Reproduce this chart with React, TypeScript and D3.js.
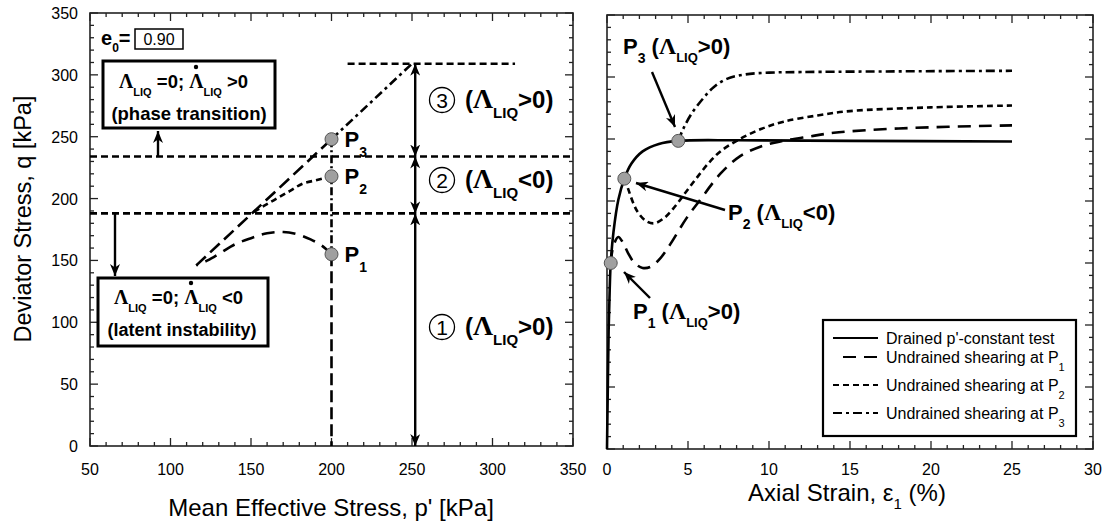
import * as d3 from 'd3';

const FONT = "'Liberation Sans', Arial, Helvetica, sans-serif";
const SERIF = "'Liberation Serif', 'Times New Roman', serif";

// ---- axes
const pTicks = [50, 100, 150, 200, 250, 300, 350];
const qTicks = [0, 50, 100, 150, 200, 250, 300, 350];
const strainTicks = [0, 5, 10, 15, 20, 25, 30];

// ---- left panel: stress paths (p', q)
const markersLeft = [
  { n: '1', p: 200, q: 155 },
  { n: '2', p: 200, q: 218 },
  { n: '3', p: 200, q: 248 },
];
const pathP1Left: [number, number][] = [
  [200, 155], [194, 162], [187, 167], [179, 171], [170, 173], [160, 172],
  [150, 168], [140, 163], [131, 156], [123, 150], [116, 146],
];
const pathP2Left: [number, number][] = [
  [200, 218], [191, 215], [182, 212], [174, 206], [166, 200], [158, 194], [150, 188],
];
const pathP3Left: [number, number][] = [[116, 146], [200, 248]];
const pathP3Ext: [number, number][] = [[200, 248], [250, 309]];
const latentQ = 188;
const phaseQ = 234;
const topQ = 309;
const topLineP = [210, 314];
const arrowP = 252;

// ---- right panel: q vs axial strain
const drained: [number, number][] = [
  [0, 0], [0.05, 50], [0.1, 95], [0.17, 130], [0.23, 150], [0.4, 175], [0.7, 201],
  [1.07, 218], [1.5, 230], [2.2, 240], [3.2, 246], [4.4, 248.5], [8, 249], [15, 248.5], [25, 248],
];
const undrainedP1: [number, number][] = [
  [0.23, 150], [0.4, 164], [0.7, 171], [1.0, 166], [1.3, 158], [1.7, 150], [2.2, 146],
  [2.7, 147], [3.3, 154], [3.9, 165], [4.9, 186], [5.7, 200], [7, 222], [8.2, 236],
  [9.5, 244], [10.7, 248], [12.5, 252], [14, 255], [18, 258.5], [25, 261],
];
const undrainedP2: [number, number][] = [
  [1.07, 218], [1.3, 210], [1.6, 199], [1.9, 191], [2.4, 184], [2.9, 182], [3.5, 186],
  [4.1, 194], [4.8, 206], [5.5, 218], [6.3, 231], [7, 240], [8.2, 250], [9.5, 258],
  [10.9, 264], [13, 269], [15, 272.5], [20, 275.5], [25, 277],
];
const undrainedP3: [number, number][] = [
  [4.4, 248.5], [4.7, 258], [5.2, 270], [5.95, 283], [6.6, 292], [7.4, 298.5],
  [8.5, 302], [10, 303.5], [12, 304], [25, 305],
];
const markersRight = [
  { n: '1', e: 0.23, q: 150 },
  { n: '2', e: 1.07, q: 218 },
  { n: '3', e: 4.4, q: 248.5 },
];

const legendItems = [
  { label: "Drained p'-constant test", sub: '', dash: '' },
  { label: 'Undrained shearing at P', sub: '1', dash: '13,8' },
  { label: 'Undrained shearing at P', sub: '2', dash: '6,4' },
  { label: 'Undrained shearing at P', sub: '3', dash: '9,4,3,4' },
];

const xL = d3.scaleLinear().domain([50, 350]).range([90, 573]);
const yL = d3.scaleLinear().domain([0, 350]).range([446, 13]);
const xR = d3.scaleLinear().domain([0, 30]).range([607, 1093]);
const yR = d3.scaleLinear().domain([0, 350]).range([449, 15]);

const lineL = d3.line<[number, number]>().x(d => xL(d[0])).y(d => yL(d[1])).curve(d3.curveCatmullRom);
const lineR = d3.line<[number, number]>().x(d => xR(d[0])).y(d => yR(d[1])).curve(d3.curveCatmullRom);

function Frame({ x, y, minorX, minorY, majorX, majorY }: any) {
  const [x0, x1] = x.range();
  const [y0, y1] = y.range();
  const els: any[] = [];
  minorX.forEach((v: number, i: number) => {
    const len = majorX.includes(v) ? 8 : 4;
    els.push(<line key={'bx' + i} x1={x(v)} x2={x(v)} y1={y0} y2={y0 - len} />);
    els.push(<line key={'tx' + i} x1={x(v)} x2={x(v)} y1={y1} y2={y1 + len} />);
  });
  minorY.forEach((v: number, i: number) => {
    const len = majorY.includes(v) ? 8 : 4;
    els.push(<line key={'ly' + i} x1={x0} x2={x0 + len} y1={y(v)} y2={y(v)} />);
    els.push(<line key={'ry' + i} x1={x1} x2={x1 - len} y1={y(v)} y2={y(v)} />);
  });
  return (
    <g stroke="#222" strokeWidth={1.3}>
      {els}
      <rect x={x0} y={y1} width={x1 - x0} height={y0 - y1} fill="none" strokeWidth={1.6} />
    </g>
  );
}

function PLabel({ x, y, n, sign }: any) {
  const s = 22;
  return (
    <text x={x} y={y} fontFamily={FONT} fontWeight="bold" fontSize={s}>
      P<tspan fontSize={14} dy={9}>{n}</tspan><tspan dy={-9}>{' ('}</tspan><tspan fontFamily={SERIF} fontSize={24}>Λ</tspan><tspan fontSize={13} dy={8}>LIQ</tspan><tspan dy={-8}>{sign + '0)'}</tspan>
    </text>
  );
}

function Region({ y, digit, sign }: any) {
  const s = 24;
  return (
    <g>
      <circle cx={442} cy={y} r={12.5} fill="none" stroke="#000" strokeWidth={1.3} />
      <text x={442} y={y + 7.5} textAnchor="middle" fontFamily={FONT} fontSize={21}>{digit}</text>
      <text x={465} y={y + 8} fontFamily={FONT} fontWeight="bold" fontSize={s}>
        (<tspan fontFamily={SERIF} fontSize={28}>Λ</tspan><tspan fontSize={15} dy={10}>LIQ</tspan><tspan dy={-10}>{sign + '0)'}</tspan>
      </text>
    </g>
  );
}

function BoxText({ x, y, sign }: any) {
  const s = 18.5;
  return (
    <g>
      <text x={x} y={y} fontFamily={FONT} fontWeight="bold" fontSize={s}>
        <tspan fontFamily={SERIF} fontSize={20}>Λ</tspan><tspan fontSize={11} dy={8}>LIQ</tspan><tspan dy={-8}>{' =0; '}</tspan><tspan fontFamily={SERIF} fontSize={20}>Λ</tspan><tspan fontSize={11} dy={8}>LIQ</tspan><tspan dy={-8}>{' ' + sign + '0'}</tspan>
      </text>
      <circle cx={x + 77} cy={y - 21} r={2.2} fill="#000" />
    </g>
  );
}

export default function App() {
  const minorP = d3.range(50, 351, 10);
  const minorQ = d3.range(0, 351, 10);
  const minorE = d3.range(0, 31, 1);
  const sw = 2.6;
  return (
    <svg width={1107} height={524} style={{ position: 'absolute', left: 0, top: 0, background: '#fff' }}>
      <defs>
        <marker id="arr" viewBox="0 0 12 10" refX={12} refY={5} markerWidth={12} markerHeight={10}
          markerUnits="userSpaceOnUse" orient="auto-start-reverse">
          <path d="M0,0 L12,5 L0,10 L3.5,5 Z" fill="#000" />
        </marker>
      </defs>

      {/* ---------- LEFT PANEL ---------- */}
      <Frame x={xL} y={yL} minorX={minorP} minorY={minorQ} majorX={pTicks} majorY={qTicks} />
      <g fontFamily={FONT} fontSize={16} fill="#000">
        {pTicks.map(t => <text key={t} x={xL(t)} y={475} textAnchor="middle">{t}</text>)}
        {qTicks.map(t => <text key={t} x={78} y={yL(t) + 6} textAnchor="end">{t}</text>)}
      </g>
      <text x={331} y={516} textAnchor="middle" fontFamily={FONT} fontSize={24}>Mean Effective Stress, p' [kPa]</text>
      <text transform={`translate(31,219) rotate(-90)`} textAnchor="middle" fontFamily={FONT} fontSize={23.5}>Deviator Stress, q [kPa]</text>

      {/* boundaries */}
      <g stroke="#000" strokeWidth={sw} strokeDasharray="7,4" fill="none">
        <line x1={xL(50)} x2={xL(350)} y1={yL(phaseQ)} y2={yL(phaseQ)} />
        <line x1={xL(50)} x2={xL(350)} y1={yL(latentQ)} y2={yL(latentQ)} />
        <line x1={xL(topLineP[0])} x2={xL(topLineP[1])} y1={yL(topQ)} y2={yL(topQ)} />
      </g>
      {/* vertical line at p' = 200 */}
      <line x1={xL(200)} x2={xL(200)} y1={yL(248)} y2={yL(155)} stroke="#000" strokeWidth={sw} strokeDasharray="8,3,2,3" />
      <line x1={xL(200)} x2={xL(200)} y1={yL(155)} y2={yL(0)} stroke="#000" strokeWidth={sw} strokeDasharray="12,5" />

      {/* stress paths */}
      <g fill="none" stroke="#000" strokeWidth={sw}>
        <path d={lineL(pathP1Left) || ''} strokeDasharray="13,8" />
        <path d={lineL(pathP2Left) || ''} strokeDasharray="6,4" />
        <path d={lineL(pathP3Left) || ''} strokeDasharray="13,6" />
        <path d={lineL(pathP3Ext) || ''} strokeDasharray="9,4,3,4" />
      </g>

      {/* double arrows */}
      <g stroke="#000" strokeWidth={2.4} markerStart="url(#arr)" markerEnd="url(#arr)">
        <line x1={xL(arrowP)} x2={xL(arrowP)} y1={yL(topQ)} y2={yL(phaseQ)} />
        <line x1={xL(arrowP)} x2={xL(arrowP)} y1={yL(phaseQ)} y2={yL(latentQ)} />
        <line x1={xL(arrowP)} x2={xL(arrowP)} y1={yL(latentQ)} y2={yL(0)} />
      </g>

      <Region y={100} digit="3" sign=">" />
      <Region y={180} digit="2" sign="<" />
      <Region y={327} digit="1" sign=">" />

      {markersLeft.map(m => (
        <g key={m.n}>
          <circle cx={xL(m.p)} cy={yL(m.q)} r={6.5} fill="#a0a0a0" stroke="#555" strokeWidth={1} />
          <text x={xL(m.p) + 13} y={yL(m.q) + 8} fontFamily={FONT} fontWeight="bold" fontSize={22}>
            P<tspan fontSize={14} dy={10}>{m.n}</tspan>
          </text>
        </g>
      ))}

      {/* e0 */}
      <text x={101} y={45} fontFamily={FONT} fontWeight="bold" fontSize={20}>
        e<tspan fontSize={12} dy={7}>0</tspan><tspan dy={-7}>=</tspan>
      </text>
      <rect x={135} y={29} width={48} height={20} fill="none" stroke="#000" strokeWidth={1.5} />
      <text x={159} y={45} textAnchor="middle" fontFamily={FONT} fontSize={16}>0.90</text>

      {/* annotation boxes */}
      <rect x={103} y={61} width={172} height={67} fill="#fff" stroke="#000" strokeWidth={3} />
      <BoxText x={119} y={88} sign=">" />
      <text x={189} y={120} textAnchor="middle" fontFamily={FONT} fontWeight="bold" fontSize={18.5}>(phase transition)</text>
      <line x1={158} x2={158} y1={yL(phaseQ)} y2={131} stroke="#000" strokeWidth={2.4} markerEnd="url(#arr)" />

      <rect x={98} y={278} width={170} height={68} fill="#fff" stroke="#000" strokeWidth={3} />
      <BoxText x={114} y={304} sign="<" />
      <text x={182} y={336} textAnchor="middle" fontFamily={FONT} fontWeight="bold" fontSize={18}>(latent instability)</text>
      <line x1={115} x2={115} y1={yL(latentQ)} y2={276} stroke="#000" strokeWidth={2.4} markerEnd="url(#arr)" />

      {/* ---------- RIGHT PANEL ---------- */}
      <Frame x={xR} y={yR} minorX={minorE} minorY={minorQ} majorX={strainTicks} majorY={qTicks} />
      <g fontFamily={FONT} fontSize={16} fill="#000">
        {strainTicks.map(t => <text key={t} x={xR(t)} y={475} textAnchor="middle">{t}</text>)}
      </g>
      <text x={847} y={501} textAnchor="middle" fontFamily={FONT} fontSize={24}>
        Axial Strain, ε<tspan fontSize={15} dy={8}>1</tspan><tspan dy={-8}>{' (%)'}</tspan>
      </text>

      <g fill="none" stroke="#000" strokeWidth={sw}>
        <path d={lineR(drained) || ''} />
        <path d={lineR(undrainedP1) || ''} strokeDasharray="13,8" />
        <path d={lineR(undrainedP2) || ''} strokeDasharray="6,4" />
        <path d={lineR(undrainedP3) || ''} strokeDasharray="9,4,3,4" />
      </g>
      {markersRight.map(m => (
        <circle key={m.n} cx={xR(m.e)} cy={yR(m.q)} r={6.5} fill="#a0a0a0" stroke="#555" strokeWidth={1} />
      ))}

      <g stroke="#000" strokeWidth={2.4} markerEnd="url(#arr)">
        <line x1={652} y1={72} x2={675} y2={127} />
        <line x1={725} y1={210} x2={636} y2={183} />
        <line x1={650} y1={298} x2={624} y2={272} />
      </g>
      <PLabel x={623} y={54} n="3" sign=">" />
      <PLabel x={728} y={220} n="2" sign="<" />
      <PLabel x={633} y={319} n="1" sign=">" />

      {/* legend */}
      <rect x={823} y={320} width={253} height={116} fill="#fff" stroke="#000" strokeWidth={2.2} />
      {legendItems.map((it, i) => {
        const yy = [338, 357, 385, 413][i];
        return (
          <g key={i}>
            <line x1={it.dash === '13,8' ? 843 : 833} x2={878} y1={yy} y2={yy} stroke="#000" strokeWidth={2}
              strokeDasharray={it.dash || undefined} />
            <text x={886} y={yy + 5.5} fontFamily={FONT} fontSize={16}>
              {it.label}{it.sub ? <tspan fontSize={11} dy={8}>{it.sub}</tspan> : null}
            </text>
          </g>
        );
      })}
    </svg>
  );
}
